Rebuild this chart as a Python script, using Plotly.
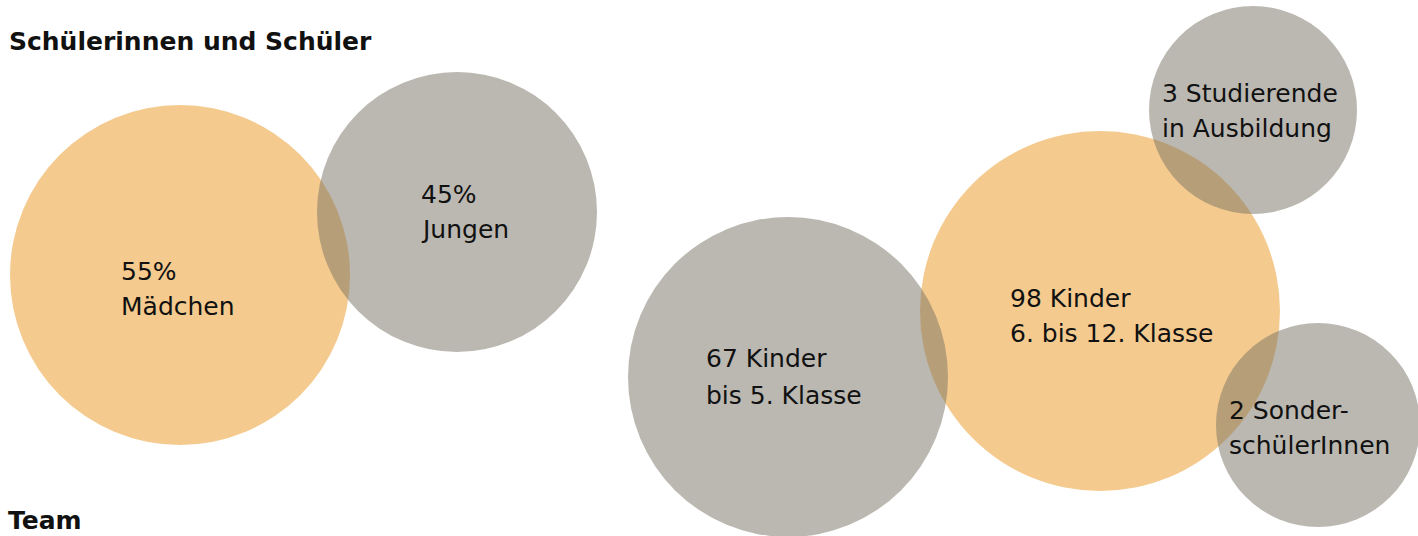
import plotly.graph_objects as go

# ---- data ----
labels_line1 = ["55%", "45%", "67 Kinder", "98 Kinder", "3 Studierende", "2 Sonder-"]
labels_line2 = ["Mädchen", "Jungen", "bis 5. Klasse", "6. bis 12. Klasse", "in Ausbildung", "schülerInnen"]
groups = ["Mädchen", "Jungen", "Kinder bis 5. Klasse", "Kinder 6. bis 12. Klasse", "Studierende", "SonderschülerInnen"]
values = [55, 45, 67, 98, 3, 2]
kinds = ["orange", "gray", "gray", "orange", "gray", "gray"]
section_titles = ["Schülerinnen und Schüler", "Team"]

# ---- layout of bubbles (pixel-like coordinates) ----
cx = [180, 457, 788, 1100, 1253, 1318]
cy = [275, 212, 377, 311, 110, 425]
rad = [170, 140, 160, 180, 104, 102]
text_x = [119, 419, 704, 1008, 1160, 1227]
text_y1 = [271, 194, 358, 298, 93, 410]
text_y2 = [306, 229, 395, 333, 128, 445]

W, H = 1418, 536
colors = {"orange": "rgba(233,149,29,0.5)", "gray": "rgba(119,113,99,0.5)"}
FONT = "DejaVu Sans"

fig = go.Figure()
# invisible trace to establish axes
fig.add_trace(go.Scatter(x=cx, y=cy, mode="markers", marker=dict(opacity=0),
                         hoverinfo="skip", showlegend=False))

shapes = []
# draw orange first, gray on top
order = [i for i in range(len(kinds)) if kinds[i] == "orange"] + [i for i in range(len(kinds)) if kinds[i] == "gray"]
for i in order:
    shapes.append(dict(type="circle", xref="x", yref="y",
                       x0=cx[i] - rad[i], x1=cx[i] + rad[i],
                       y0=cy[i] - rad[i], y1=cy[i] + rad[i],
                       fillcolor=colors[kinds[i]], line=dict(width=0), layer="below"))

annotations = []
for i in range(len(labels_line1)):
    for txt, yy in ((labels_line1[i], text_y1[i]), (labels_line2[i], text_y2[i])):
        annotations.append(dict(x=text_x[i], y=yy, xref="x", yref="y", text=txt,
                                showarrow=False, xanchor="left", yanchor="middle",
                                font=dict(family=FONT, size=25, color="#111111")))

annotations.append(dict(x=7, y=41, xref="x", yref="y", text="<b>" + section_titles[0] + "</b>",
                        showarrow=False, xanchor="left", yanchor="middle",
                        font=dict(family=FONT, size=25, color="#111111")))
annotations.append(dict(x=7, y=0, xref="paper", yref="paper", text="<b>" + section_titles[1] + "</b>",
                        showarrow=False, xanchor="left", yanchor="bottom", borderpad=0,
                        font=dict(family=FONT, size=25, color="#111111")))

fig.update_layout(
    width=W, height=H,
    margin=dict(l=0, r=0, t=0, b=0),
    paper_bgcolor="white", plot_bgcolor="white",
    xaxis=dict(range=[0, W], visible=False, fixedrange=True),
    yaxis=dict(range=[H, 0], visible=False, fixedrange=True),
    shapes=shapes, annotations=annotations, showlegend=False,
)
fig.layout.annotations[-1].x = 7 / W

fig.write_html("out.html", config={"displayModeBar": False},
               post_script="document.body.style.margin='0';document.body.style.overflow='hidden';")
